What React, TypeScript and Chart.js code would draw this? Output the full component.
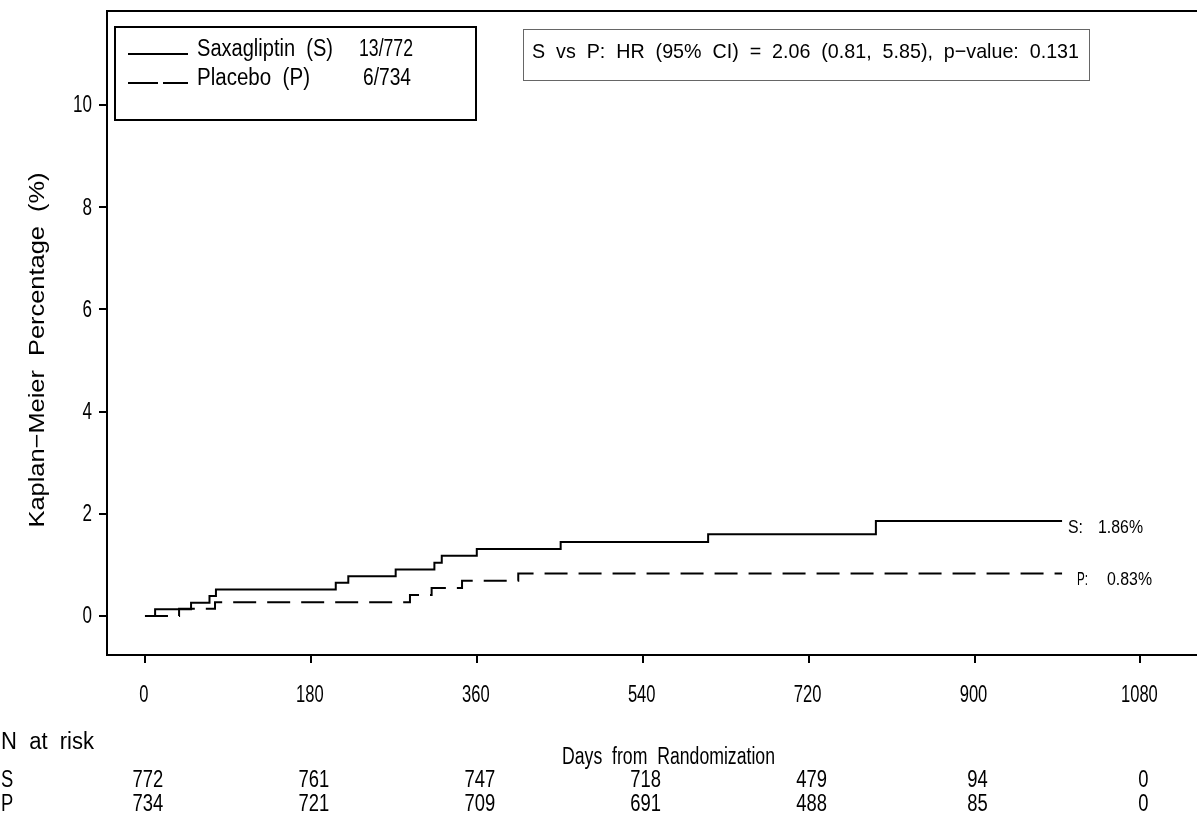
import React, { useEffect, useRef } from "react";
import { Chart, registerables } from "chart.js";

Chart.register(...registerables);

// ---- Data ----
const sDays = [0, 11, 50, 70, 77, 207, 220.6, 272, 314, 322, 360, 451, 611, 793, 995];
const sPct = [0, 0.13, 0.26, 0.39, 0.52, 0.65, 0.78, 0.91, 1.04, 1.18, 1.31, 1.45, 1.6, 1.86, 1.86];
const pDays = [0, 37, 76, 287.5, 311, 344, 405, 995];
const pPct = [0, 0.14, 0.27, 0.41, 0.55, 0.69, 0.83, 0.83];

const xTicks = [0, 180, 360, 540, 720, 900, 1080];
const yTicks = [0, 2, 4, 6, 8, 10];
const riskS = [772, 761, 747, 718, 479, 94, 0];
const riskP = [734, 721, 709, 691, 488, 85, 0];

const legendLabels = ["Saxagliptin  (S)", "Placebo  (P)"];
const legendCounts = ["13/772", "6/734"];
const hrText = "S  vs  P:  HR  (95%  CI)  =  2.06  (0.81,  5.85),  p\u2212value:  0.131";
const endLabels = [
  { tag: "S:", value: "1.86%" },
  { tag: "P:", value: "0.83%" },
];
const yTitle = "Kaplan\u2212Meier  Percentage  (%)";
const xTitle = "Days  from  Randomization";

const FONT = '"Liberation Sans", Arial, Helvetica, sans-serif';

function drawText(
  ctx: CanvasRenderingContext2D,
  text: string,
  x: number,
  y: number,
  o: { size: number; align?: CanvasTextAlign; width?: number; scaleX?: number; rotate?: number }
) {
  ctx.save();
  ctx.font = `${o.size}px ${FONT}`;
  ctx.textBaseline = "middle";
  ctx.fillStyle = "#000";
  const w = ctx.measureText(text).width;
  const sx = o.width ? o.width / w : o.scaleX ?? 1;
  ctx.translate(x, y);
  if (o.rotate) ctx.rotate(o.rotate);
  ctx.scale(sx, 1);
  ctx.textAlign = o.align ?? "left";
  ctx.fillText(text, 0, 0);
  ctx.restore();
}

const decorPlugin = {
  id: "kmDecor",
  beforeDraw(chart: any) {
    const ctx = chart.ctx as CanvasRenderingContext2D;
    ctx.save();
    ctx.fillStyle = "#fff";
    ctx.fillRect(0, 0, chart.width, chart.height);
    ctx.restore();
  },
  afterDraw(chart: any) {
    const ctx = chart.ctx as CanvasRenderingContext2D;
    const xs = chart.scales.x;
    const ys = chart.scales.y;
    const a = chart.chartArea;

    // frame (left, top, bottom)
    ctx.save();
    ctx.strokeStyle = "#000";
    ctx.lineWidth = 2;
    ctx.beginPath();
    ctx.moveTo(chart.width + 4, a.top);
    ctx.lineTo(a.left, a.top);
    ctx.lineTo(a.left, a.bottom);
    ctx.lineTo(chart.width + 4, a.bottom);
    ctx.stroke();

    // ticks
    ctx.beginPath();
    xTicks.forEach((t) => {
      const px = Math.round(xs.getPixelForValue(t));
      ctx.moveTo(px, a.bottom);
      ctx.lineTo(px, a.bottom + 8);
    });
    yTicks.forEach((t) => {
      const py = Math.round(ys.getPixelForValue(t));
      ctx.moveTo(a.left, py);
      ctx.lineTo(a.left - 8, py);
    });
    ctx.stroke();
    ctx.restore();

    // tick labels
    xTicks.forEach((t) => {
      drawText(ctx, String(t), xs.getPixelForValue(t) - 1, 696, { size: 23, align: "center", scaleX: 0.72 });
    });
    yTicks.forEach((t) => {
      drawText(ctx, String(t), 92, ys.getPixelForValue(t) + 1, { size: 23, align: "right", scaleX: 0.74 });
    });

    // axis titles
    drawText(ctx, yTitle, 38, 350, { size: 22, align: "center", width: 355, rotate: -Math.PI / 2 });
    drawText(ctx, xTitle, 562, 758, { size: 23, align: "left", width: 213 });

    // legend box
    ctx.save();
    ctx.strokeStyle = "#000";
    ctx.lineWidth = 2;
    ctx.strokeRect(115, 27, 361, 93);
    ctx.beginPath();
    ctx.moveTo(128, 54);
    ctx.lineTo(188, 54);
    ctx.stroke();
    ctx.setLineDash([30, 5]);
    ctx.beginPath();
    ctx.moveTo(128, 83);
    ctx.lineTo(188, 83);
    ctx.stroke();
    ctx.restore();
    drawText(ctx, legendLabels[0], 197, 50, { size: 23, width: 136 });
    drawText(ctx, legendCounts[0], 359, 50, { size: 23, width: 54 });
    drawText(ctx, legendLabels[1], 197, 79, { size: 23, width: 113 });
    drawText(ctx, legendCounts[1], 363, 79, { size: 23, width: 48 });

    // HR box
    ctx.save();
    ctx.strokeStyle = "#666";
    ctx.lineWidth = 1;
    ctx.strokeRect(523.5, 29.5, 566, 51);
    ctx.restore();
    drawText(ctx, hrText, 532, 52, { size: 21, width: 547 });

    // end labels
    drawText(ctx, endLabels[0].tag, 1068, 528, { size: 18, width: 15 });
    drawText(ctx, endLabels[0].value, 1098, 528, { size: 18, width: 45 });
    drawText(ctx, endLabels[1].tag, 1077, 580, { size: 18, width: 11 });
    drawText(ctx, endLabels[1].value, 1107, 580, { size: 18, width: 45 });

    // risk table
    drawText(ctx, "N  at  risk", 1, 743, { size: 23, width: 93 });
    drawText(ctx, "S", 1, 781, { size: 23, scaleX: 0.8 });
    drawText(ctx, "P", 1, 805, { size: 23, scaleX: 0.8 });
    xTicks.forEach((t, i) => {
      const px = xs.getPixelForValue(t);
      drawText(ctx, String(riskS[i]), px + 3, 781, { size: 23, align: "center", scaleX: 0.8 });
      drawText(ctx, String(riskP[i]), px + 3, 805, { size: 23, align: "center", scaleX: 0.8 });
    });
  },
};

export default function App() {
  const ref = useRef<HTMLCanvasElement>(null);
  useEffect(() => {
    if (!ref.current) return;
    const chart = new Chart(ref.current, {
      type: "line",
      data: {
        datasets: [
          {
            label: "Saxagliptin (S)",
            data: sDays.map((d, i) => ({ x: d, y: sPct[i] })),
            borderColor: "#000",
            borderWidth: 2,
            pointRadius: 0,
            stepped: "before",
            fill: false,
          },
          {
            label: "Placebo (P)",
            data: pDays.map((d, i) => ({ x: d, y: pPct[i] })),
            borderColor: "#000",
            borderWidth: 2,
            borderDash: [23, 11],
            pointRadius: 0,
            stepped: "before",
            fill: false,
          },
        ],
      },
      options: {
        responsive: false,
        animation: false,
        layout: { padding: { left: 107, top: 11, right: 0, bottom: 166 } },
        plugins: { legend: { display: false }, tooltip: { enabled: false } },
        scales: {
          x: { type: "linear", min: -41.2, max: 1141.4, display: false },
          y: { type: "linear", min: -0.763, max: 11.84, display: false },
        },
      },
      plugins: [decorPlugin],
    });
    return () => chart.destroy();
  }, []);
  return (
    <div style={{ position: "absolute", left: 0, top: 0, width: 1197, height: 821, background: "#fff" }}>
      <canvas ref={ref} width={1197} height={821} style={{ display: "block", width: 1197, height: 821 }} />
    </div>
  );
}
